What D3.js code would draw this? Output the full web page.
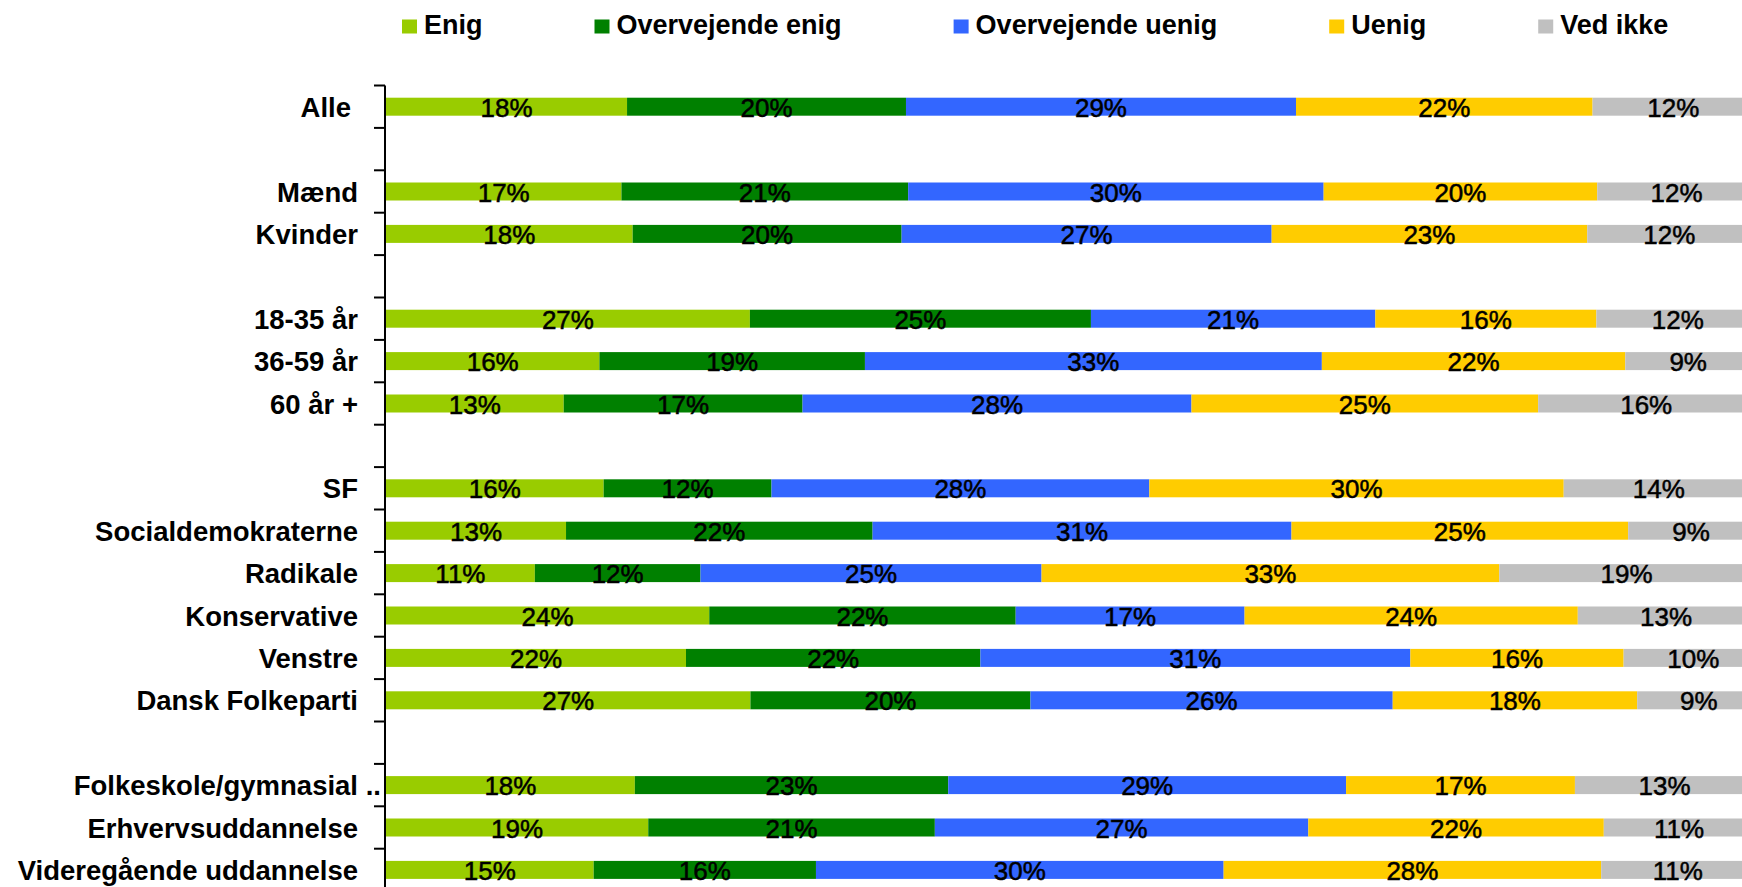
<!DOCTYPE html>
<html>
<head>
<meta charset="utf-8">
<script src="https://cdn.jsdelivr.net/npm/d3@7"></script>
<style>
  html, body { margin: 0; padding: 0; background: #ffffff; }
  svg { display: block; font-family: "Liberation Sans", Arial, sans-serif; }
</style>
</head>
<body>
<svg id="chart" width="1742" height="887"></svg>
<script>
// ---- Data ----
const seriesNames = ["Enig", "Overvejende enig", "Overvejende uenig", "Uenig", "Ved ikke"];
const seriesColors = ["#99CC00", "#008000", "#3366FF", "#FFCC00", "#C0C0C0"];

const groups = [
  ["Alle"],
  ["Mænd", "Kvinder"],
  ["18-35 år", "36-59 år", "60 år +"],
  ["SF", "Socialdemokraterne", "Radikale", "Konservative", "Venstre", "Dansk Folkeparti"],
  ["Folkeskole/gymnasial ..", "Erhvervsuddannelse", "Videregående uddannelse"]
];

const enig             = [17.62, 17.21, 18.03, 26.6, 15.6, 12.99, 15.91, 13.16, 10.88, 23.63, 21.93, 26.64, 18.19, 19.17, 15.18];
const overvejendeEnig  = [20.39, 20.96, 19.66, 24.93, 19.41, 17.46, 12.27, 22.41, 12.11, 22.4, 21.52, 20.47, 22.91, 20.95, 16.25];
const overvejendeUenig = [28.51, 30.37, 27.05, 20.79, 33.4, 28.43, 27.62, 30.62, 24.93, 16.73, 31.43, 26.48, 29.08, 27.3, 29.8];
const uenig            = [21.68, 20.0, 23.07, 16.16, 22.18, 25.34, 30.29, 24.61, 33.46, 24.36, 15.59, 17.87, 16.73, 21.6, 27.6];
const vedIkke          = [11.8, 11.6, 12.0, 11.9, 9.2, 15.8, 13.9, 9.2, 18.6, 12.9, 10.2, 9.0, 13.1, 11.0, 11.2];

const seriesValues = [enig, overvejendeEnig, overvejendeUenig, uenig, vedIkke];

// ---- Build rows ----
const categories = groups.flat();
const slots = [];
groups.forEach((g, i) => {
  if (i > 0) slots.push("__gap" + i);
  g.forEach(c => slots.push(c));
});

const rows = categories.map((c, i) => {
  let x0 = 0;
  const segs = seriesValues.map((arr, s) => {
    const seg = { cat: c, s, v: arr[i], x0, x1: x0 + arr[i] };
    x0 += arr[i];
    return seg;
  });
  return { cat: c, segs };
});

// ---- Layout ----
const svg = d3.select("#chart");
const W = 1742, H = 887;
const plotLeft = 386;
const slotStep = 42.4;
const plotTop = 85.5;

const x = d3.scaleLinear().domain([0, 100]).range([plotLeft, plotLeft + 1368]);
const pad = 1 - 18 / slotStep;
const y = d3.scaleBand()
  .domain(slots)
  .range([plotTop, plotTop + slots.length * slotStep])
  .paddingInner(pad)
  .paddingOuter(pad / 2);

// ---- Bars ----
const g = svg.append("g");
const rowG = g.selectAll("g.row").data(rows).join("g").attr("class", "row");

rowG.selectAll("rect").data(d => d.segs).join("rect")
  .attr("x", d => x(d.x0))
  .attr("y", d => y(d.cat))
  .attr("width", d => x(d.x1) - x(d.x0))
  .attr("height", y.bandwidth())
  .attr("fill", d => seriesColors[d.s]);

rowG.selectAll("text").data(d => d.segs).join("text")
  .attr("x", d => (x(d.x0) + x(d.x1)) / 2)
  .attr("y", d => y(d.cat) + y.bandwidth() / 2 + 10)
  .attr("text-anchor", "middle")
  .attr("font-size", 26)
  .attr("fill", "#000")
  .attr("stroke", "#000")
  .attr("stroke-width", 0.5)
  .text(d => Math.round(d.v) + "%");

// ---- Axis ----
const axisX = plotLeft - 1;
const axisG = svg.append("g");
const yBottom = plotTop + slots.length * slotStep;
axisG.append("line")
  .attr("x1", axisX).attr("x2", axisX)
  .attr("y1", plotTop).attr("y2", yBottom)
  .attr("stroke", "#000").attr("stroke-width", 2);

const boundaries = slots.map(s => y(s) - (y.step() - y.bandwidth()) / 2);
boundaries.push(yBottom);
axisG.selectAll("line.tick").data(boundaries).join("line")
  .attr("class", "tick")
  .attr("x1", axisX - 11).attr("x2", axisX)
  .attr("y1", d => d).attr("y2", d => d)
  .attr("stroke", "#000").attr("stroke-width", 2);

// Category labels
const labelX = 358;
const labG = svg.append("g");
categories.forEach(c => {
  const yc = y(c) + y.bandwidth() / 2 + 10;
  const parts = c.split(" ..");
  const t = labG.append("text")
    .attr("x", c === "Alle" ? labelX - 7 : labelX)
    .attr("y", yc)
    .attr("text-anchor", "end")
    .attr("font-size", 27.5)
    .attr("font-weight", "bold")
    .attr("fill", "#000")
    .text(parts[0]);
  if (parts.length > 1) {
    labG.append("text")
      .attr("x", labelX)
      .attr("y", yc)
      .attr("font-size", 27.5)
      .attr("font-weight", "bold")
      .attr("fill", "#000")
      .style("white-space", "pre")
      .text(" ..");
  }
});

// ---- Legend ----
const legG = svg.append("g");
let lx = 402;
seriesNames.forEach((name, i) => {
  legG.append("rect")
    .attr("x", lx).attr("y", 19.5)
    .attr("width", 15).attr("height", 14)
    .attr("fill", seriesColors[i]);
  const t = legG.append("text")
    .attr("x", lx + 22).attr("y", 34)
    .attr("font-size", 27)
    .attr("font-weight", "bold")
    .attr("fill", "#000")
    .text(name);
  const w = t.node().getComputedTextLength();
  lx = lx + 22 + w + 112;
});
</script>
</body>
</html>
